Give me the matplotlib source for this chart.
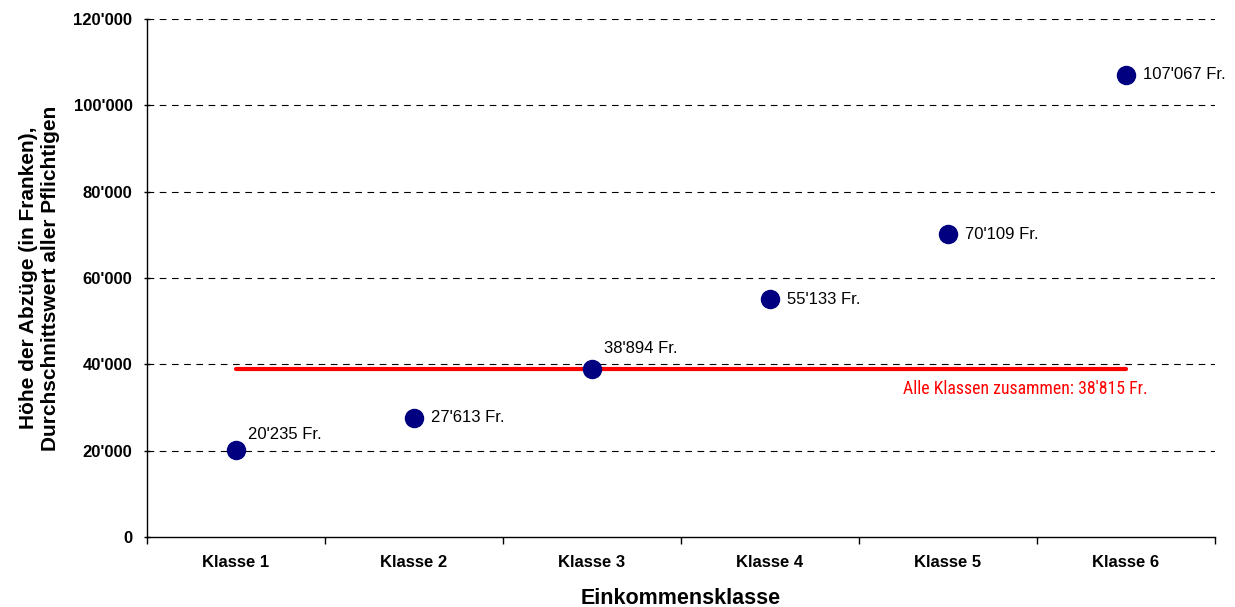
import matplotlib
matplotlib.use('Agg')
import matplotlib.pyplot as plt

categories = ['Klasse 1', 'Klasse 2', 'Klasse 3', 'Klasse 4', 'Klasse 5', 'Klasse 6']
values = [20235, 27613, 38894, 55133, 70109, 107067]
labels = ["20'235 Fr.", "27'613 Fr.", "38'894 Fr.", "55'133 Fr.", "70'109 Fr.", "107'067 Fr."]
mean_all = 38815
mean_label = "Alle Klassen zusammen: 38'815 Fr."
yticks = [0, 20000, 40000, 60000, 80000, 100000, 120000]
ytick_labels = ['0', "20'000", "40'000", "60'000", "80'000", "100'000", "120'000"]

plt.rcParams['font.family'] = ['Liberation Sans', 'DejaVu Sans']

fig = plt.figure(figsize=(12.35, 6.07), dpi=100)
ax = fig.add_axes([147 / 1235, 1 - 537 / 607, (1215 - 147) / 1235, (537 - 19) / 607])

x = list(range(len(categories)))
ax.set_xlim(-0.5, len(categories) - 0.5)
ax.set_ylim(0, 120000)

for y in yticks[1:]:
    ax.axhline(y, color='black', lw=0.8, ls=(0, (6, 5)), zorder=0)

ax.plot([x[0], x[-1]], [mean_all, mean_all], color='#ff0000', lw=3, solid_capstyle='round', zorder=2)
ax.plot(x, values, 'o', color='#000080', ms=13, zorder=3)

# label offsets in points
offsets = [(9, 11), (12, 0), (9, 15), (12, 0), (12, 0), (12, 0)]
for xi, v, lab, off in zip(x, values, labels, offsets):
    ax.annotate(lab, (xi, v), xytext=off, textcoords='offset points',
                ha='left', va='center', fontsize=12)

ax.annotate(mean_label, (x[-1], mean_all), xytext=(16, -14), textcoords='offset points',
            ha='right', va='center', fontsize=12.8, color='#ff0000',
            family=['Roboto Condensed', 'Liberation Sans Narrow', 'DejaVu Sans'],
            fontstretch='condensed')

ax.set_yticks(yticks)
ax.set_yticklabels(ytick_labels, fontsize=12, fontweight='bold')
ax.set_xticks(x)
ax.set_xticklabels(categories, fontsize=12, fontweight='bold')
ax.set_xticks([i - 0.5 for i in range(len(categories) + 1)], minor=True)
ax.tick_params(axis='x', which='major', length=0, pad=13)
ax.tick_params(axis='x', which='minor', length=5, direction='out', width=1)
ax.tick_params(axis='y', which='major', length=5, direction='inout', width=1, pad=8)

for s in ['top', 'right']:
    ax.spines[s].set_visible(False)
for s in ['left', 'bottom']:
    ax.spines[s].set_linewidth(1)

ax.set_xlabel('Einkommensklasse', fontsize=15.5, fontweight='bold')
ax.xaxis.set_label_coords(0.5, -51 / 518)
ax.set_ylabel("Höhe der Abzüge (in Franken),\nDurchschnittswert aller Pflichtigen",
              fontsize=15, fontweight='bold', linespacing=1.2)
ax.yaxis.set_label_coords(-87 / 1068, 0.5)

fig.savefig('out.png', dpi=100)
